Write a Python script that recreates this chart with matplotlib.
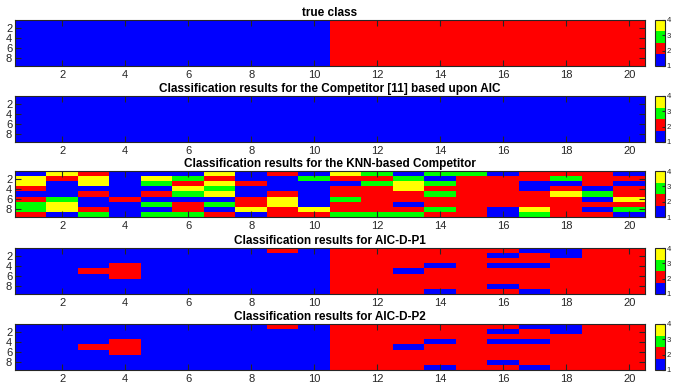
import matplotlib
matplotlib.use("Agg")
import matplotlib.pyplot as plt
from matplotlib import colors
import numpy as np

plt.rcParams['font.family'] = ['Liberation Sans', 'DejaVu Sans']

# class codes: B=1 (blue), R=2 (red), G=3 (green), Y=4 (yellow)
CODE = {'B': 1, 'R': 2, 'G': 3, 'Y': 4}

titles = [
    'true class',
    'Classification results for the Competitor [11] based upon AIC',
    'Classification results for the KNN-based Competitor',
    'Classification results for AIC-D-P1',
    'Classification results for AIC-D-P2',
]

true_class = ['BBBBBBBBBBRRRRRRRRRR'] * 9

aic_competitor = ['BBBBBBBBBBBBBBBBBBBB'] * 9

knn_competitor = [
    'BYRBBBYBRBYGBGGBRRRB',
    'YRYBYGRBBGRRGBRRRGRR',
    'YBYBGRYRBBBGYGRRBBRB',
    'RBBBBYGBBBRRYRRRBRBR',
    'BBRBRGYBRBRRRGRRRYGR',
    'RGBRBBBRYBGRRRRRRRBY',
    'GYBBGRGRYBRRBRRRRRRR',
    'GYRBBRBYRYRRRGRBYRBG',
    'RBGBGGRBRRGGGRRBGRRB',
]

aic_d_p1 = [
    'BBBBBBBBRBRRRRRRBBRR',
    'BBBBBBBBBBRRRRRBRBRR',
    'BBBBBBBBBBRRRRRRRRRR',
    'BBBRBBBBBBRRRBRBBRRR',
    'BBRRBBBBBBRRBRRRRRRR',
    'BBBRBBBBBBRRRRRRRRRR',
    'BBBBBBBBBBRRRRRRRRRR',
    'BBBBBBBBBBRRRRRBRRRR',
    'BBBBBBBBBBRRRBRRBRRR',
]

aic_d_p2 = [
    'BBBBBBBBRBRRRRRRBBRR',
    'BBBBBBBBBBRRRRRBRBRR',
    'BBBBBBBBBBRRRRRRRRRR',
    'BBBRBBBBBBRRRBRBBRRR',
    'BBRRBBBBBBRRBRRRRRRR',
    'BBBRBBBBBBRRRRRRRRRR',
    'BBBBBBBBBBRRRRRRRRRR',
    'BBBBBBBBBBRRRRRBRRRR',
    'BBBBBBBBBBRRRBRRBRRR',
]

panels = [true_class, aic_competitor, knn_competitor, aic_d_p1, aic_d_p2]
xticks = list(range(2, 21, 2))
yticks = [2, 4, 6, 8]

cmap = colors.ListedColormap(['#0000ff', '#ff0000', '#00ff00', '#ffff00'])
W, H = 673, 386
fig = plt.figure(figsize=(W / 100, H / 100), dpi=100)

edge = '#262626'
ax_left, ax_right = 15, 645
tops = [20, 96, 171, 248, 324]
ph = 46

for rows, title, top in zip(panels, titles, tops):
    grid = np.array([[CODE[c] for c in r] for r in rows])
    nr, nc = grid.shape
    ax = fig.add_axes([ax_left / W, 1 - (top + ph) / H, (ax_right - ax_left) / W, ph / H])
    im = ax.imshow(grid, cmap=cmap, vmin=1, vmax=4, aspect='auto',
                   interpolation='nearest', extent=(0.5, nc + 0.5, nr + 0.5, 0.5))
    ax.set_xticks(xticks)
    ax.set_yticks(yticks)
    ax.tick_params(direction='in', length=4, width=0.8, colors=edge, labelsize=8,
                   top=True, right=True, pad=3)
    ax.tick_params(axis='y', pad=2)
    for s in ax.spines.values():
        s.set_color(edge)
        s.set_linewidth(0.8)
    ax.set_title(title, fontsize=8.5, fontweight='bold', pad=3, color='black')

    cax = fig.add_axes([655 / W, 1 - (top + ph) / H, 10 / W, ph / H])
    cb = fig.colorbar(im, cax=cax, ticks=[1, 2, 3, 4])
    cb.outline.set_edgecolor(edge)
    cb.outline.set_linewidth(0.8)
    cax.tick_params(direction='in', length=2, labelsize=5.5, colors=edge, pad=1)

fig.savefig('out.png', dpi=100)
